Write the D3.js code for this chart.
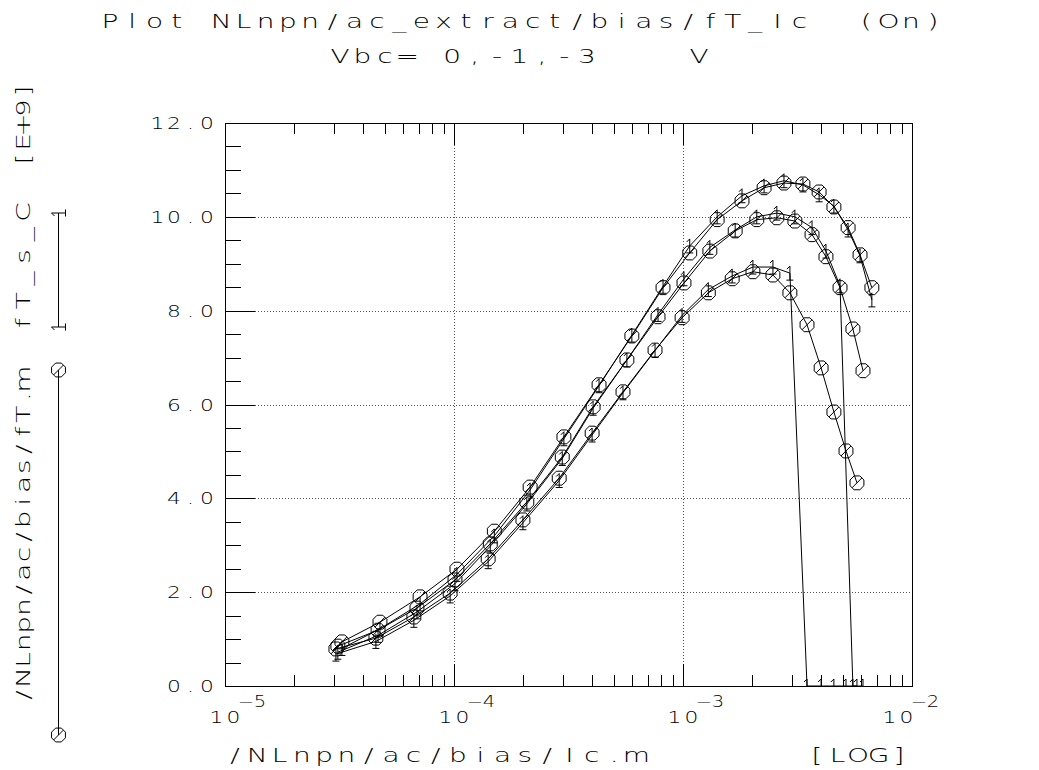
<!DOCTYPE html>
<html>
<head>
<meta charset="utf-8">
<script src="https://cdn.jsdelivr.net/npm/d3@7"></script>
<style>
body { margin: 0; background: #fff; }
text { font-family: "DejaVu Sans", sans-serif; font-weight: 200; fill: #000; white-space: pre; }
</style>
</head>
<body>
<svg id="chart" width="1039" height="770"></svg>
<script>
// collector current (A) per curve, fT in units of E+9 Hz
var icA = [3.24e-5, 4.75e-5, 7.11e-5, 1.03e-4, 1.50e-4, 2.15e-4, 3.02e-4, 4.30e-4, 5.98e-4, 8.18e-4,
           1.07e-3, 1.41e-3, 1.81e-3, 2.26e-3, 2.76e-3, 3.34e-3, 3.93e-3, 4.56e-3, 5.26e-3, 5.93e-3, 6.68e-3];
var icB = [3.11e-5, 4.66e-5, 6.89e-5, 1.01e-4, 1.44e-4, 2.08e-4, 2.97e-4, 4.05e-4, 5.69e-4, 7.78e-4,
           1.01e-3, 1.31e-3, 1.69e-3, 2.10e-3, 2.57e-3, 3.08e-3, 3.66e-3, 4.21e-3, 4.85e-3, 5.52e-3, 6.11e-3];
var icC = [3.05e-5, 4.56e-5, 6.68e-5, 9.62e-5, 1.41e-4, 2.00e-4, 2.88e-4, 4.01e-4, 5.47e-4, 7.55e-4,
           9.91e-4, 1.29e-3, 1.64e-3, 2.02e-3, 2.47e-3, 2.93e-3, 3.48e-3, 4.01e-3, 4.56e-3, 5.15e-3, 5.75e-3];

var fTmA = [0.94, 1.36, 1.90, 2.49, 3.30, 4.24, 5.31, 6.42, 7.46, 8.49, 9.23, 9.94, 10.34, 10.62, 10.72, 10.70, 10.53, 10.21, 9.77, 9.19, 8.49];
var fTmB = [0.85, 1.19, 1.66, 2.26, 3.03, 3.92, 4.88, 5.95, 6.95, 7.87, 8.59, 9.27, 9.70, 9.94, 9.98, 9.91, 9.62, 9.15, 8.49, 7.61, 6.72];
var fTmC = [0.79, 1.02, 1.47, 1.98, 2.71, 3.54, 4.43, 5.39, 6.27, 7.16, 7.85, 8.38, 8.68, 8.83, 8.76, 8.38, 7.70, 6.78, 5.84, 5.01, 4.33];

var fTsA = [0.80, 1.22, 1.75, 2.38, 3.20, 4.18, 5.27, 6.40, 7.48, 8.52, 9.38, 10.00, 10.45, 10.66, 10.77, 10.68, 10.47, 10.23, 9.72, 9.17, 8.23];
var fTsB = [0.72, 1.08, 1.58, 2.18, 2.98, 3.88, 4.85, 5.92, 6.95, 7.92, 8.68, 9.35, 9.72, 10.00, 10.08, 10.00, 9.77, 9.27, 8.53, 0, 0];
var fTsC = [0.68, 0.95, 1.40, 1.92, 2.65, 3.48, 4.38, 5.35, 6.25, 7.15, 7.90, 8.45, 8.74, 8.93, 8.93, 8.80, 0, 0, 0, 0, 0];

var yTicks = [0, 2, 4, 6, 8, 10, 12];
var yTickLabels = ["0.0", "2.0", "4.0", "6.0", "8.0", "10.0", "12.0"];
var xDecades = [-5, -4, -3, -2];

var titleText = "Plot NLnpn/ac_extract/bias/fT_Ic  (On)";
var subTitle = "Vbc= 0,-1,-3    V";
var xLabel = "/NLnpn/ac/bias/Ic.m";
var xUnit = "[LOG]";
var yLabelM = "/NLnpn/ac/bias/fT.m";
var yLabelS = "fT_s_C";
var yUnit = "[E+9]";

var svg = d3.select("#chart");
var x = d3.scaleLog().domain([1e-5, 1e-2]).range([225, 912]);
var y = d3.scaleLinear().domain([0, 12]).range([686, 123]);

// plotter style text: every character sits in its own fixed-width cell
function put(g, str, o) {
    var fs = o.fs, sx = o.sx || 1.4, gw = o.gw || 14;
    var n = str.length;
    var w = (n - 1) * o.adv + gw;
    var x0 = o.anchor == "end" ? -w : (o.anchor == "middle" ? -w / 2 : 0);
    var xs = d3.range(n).map(i => ((x0 + gw / 2 + i * o.adv) / sx).toFixed(2));
    var tr = "translate(" + o.x + "," + o.y + ")" + (o.rot ? " rotate(" + o.rot + ")" : "") + " scale(" + sx + ",1)";
    g.append("text").attr("transform", tr)
        .attr("font-size", fs)
        .attr("text-anchor", "middle")
        .attr("x", xs.join(" "))
        .text(str);
}

// grid
var grid = svg.append("g").attr("stroke", "#555").attr("stroke-width", 1).attr("stroke-dasharray", "1,2").attr("fill", "none");
grid.selectAll(".hg").data(yTicks.slice(1, -1)).enter().append("line")
    .attr("x1", x.range()[0]).attr("x2", x.range()[1])
    .attr("y1", d => Math.round(y(d)) + 0.5).attr("y2", d => Math.round(y(d)) + 0.5);
grid.selectAll(".vg").data(xDecades.slice(1, -1)).enter().append("line")
    .attr("x1", d => Math.round(x(Math.pow(10, d))) + 0.5).attr("x2", d => Math.round(x(Math.pow(10, d))) + 0.5)
    .attr("y1", y.range()[0]).attr("y2", y.range()[1]);

// frame and ticks
var ax = svg.append("g").attr("stroke", "#000").attr("stroke-width", 1).attr("fill", "none");
ax.append("rect").attr("x", 225.5).attr("y", 123.5).attr("width", 912 - 225).attr("height", 686 - 123);

var yMinor = d3.range(0, 12.001, 0.5).filter(d => d % 2 != 0);
ax.selectAll(".ymin").data(yMinor).enter().append("line")
    .attr("x1", 225).attr("x2", 241)
    .attr("y1", d => Math.round(y(d)) + 0.5).attr("y2", d => Math.round(y(d)) + 0.5);
ax.selectAll(".ymaj").data(yTicks).enter().append("line")
    .attr("x1", 225).attr("x2", 255)
    .attr("y1", d => Math.round(y(d)) + 0.5).attr("y2", d => Math.round(y(d)) + 0.5);

var xMinor = [];
xDecades.slice(0, -1).forEach(function (e) {
    d3.range(2, 10).forEach(function (k) { xMinor.push(k * Math.pow(10, e)); });
});
[[686, -11], [123, 11]].forEach(function (p) {
    ax.selectAll(null).data(xMinor).enter().append("line")
        .attr("x1", d => Math.round(x(d)) + 0.5).attr("x2", d => Math.round(x(d)) + 0.5)
        .attr("y1", p[0]).attr("y2", p[0] + p[1]);
    ax.selectAll(null).data(xDecades).enter().append("line")
        .attr("x1", d => Math.round(x(Math.pow(10, d))) + 0.5).attr("x2", d => Math.round(x(Math.pow(10, d))) + 0.5)
        .attr("y1", p[0]).attr("y2", p[0] + 2 * p[1]);
});

// tick labels
var tl = svg.append("g");
yTicks.forEach(function (d, i) {
    put(tl, yTickLabels[i], {x: 213, y: y(d) + 6, fs: 15, sx: 1.45, adv: 16.5, gw: 12, anchor: "end"});
});
xDecades.forEach(function (d, i) {
    var cx = x(Math.pow(10, d)) - (i == xDecades.length - 1 ? 14 : 0);
    put(tl, "10", {x: cx, y: 723, fs: 15, sx: 1.45, adv: 17, gw: 12, anchor: "middle"});
    put(tl, "\u2212" + Math.abs(d), {x: cx + 15, y: 707, fs: 15, sx: 1.3, adv: 14, gw: 12});
});

// titles
put(tl, titleText, {x: 103, y: 28, fs: 20, sx: 1.4, gw: 14, adv: (940 - 103 - 14) / (titleText.length - 1)});
put(tl, subTitle, {x: 333, y: 63, fs: 20, sx: 1.4, gw: 14, adv: (706 - 333 - 14) / (subTitle.length - 1)});
put(tl, xLabel, {x: 228, y: 762, fs: 20, sx: 1.4, gw: 14, adv: 22.3});
put(tl, xUnit, {x: 906, y: 762, fs: 20, sx: 1.4, gw: 14, adv: 20.5, anchor: "end"});
put(tl, yLabelM, {x: 30, y: 702, fs: 20, sx: 1.4, gw: 14, adv: (702 - 372 - 14) / (yLabelM.length - 1), rot: -90});
put(tl, yLabelS, {x: 30, y: 330, fs: 20, sx: 1.4, gw: 14, adv: (330 - 205 - 14) / (yLabelS.length - 1), rot: -90});
put(tl, yUnit, {x: 30, y: 166, fs: 20, sx: 1.4, gw: 14, adv: (166 - 84 - 14) / (yUnit.length - 1), rot: -90});

// markers
var oct = d3.range(8).map(function (k) {
    var a = Math.PI / 8 + k * Math.PI / 4;
    return [(7.5 * Math.cos(a)).toFixed(2), (7.5 * Math.sin(a)).toFixed(2)];
});
var octPath = "M" + oct.join("L") + "Z M-5,5 L5,-5";
var onePath = "M0,-7 V7 M-3.5,7 H3.5 M0,-7 L-3,-4";

svg.append("clipPath").attr("id", "plotclip").append("rect")
    .attr("x", 225).attr("y", 110).attr("width", 700).attr("height", 576);

var plot = svg.append("g").attr("clip-path", "url(#plotclip)");
var series = [
    {ic: icA, m: fTmA, s: fTsA},
    {ic: icB, m: fTmB, s: fTsB},
    {ic: icC, m: fTmC, s: fTsC}
];
var line = d3.line().x(d => x(d[0])).y(d => y(d[1]));

series.forEach(function (sr) {
    var mPts = d3.zip(sr.ic, sr.m);
    var sPts = d3.zip(sr.ic, sr.s);
    plot.append("path").attr("d", line(sPts)).attr("fill", "none").attr("stroke", "#000").attr("stroke-width", 1);
    plot.append("path").attr("d", line(mPts)).attr("fill", "none").attr("stroke", "#000").attr("stroke-width", 1);
    plot.selectAll(null).data(mPts).enter().append("path")
        .attr("transform", d => "translate(" + x(d[0]) + "," + y(d[1]) + ")")
        .attr("d", octPath).attr("fill", "none").attr("stroke", "#000").attr("stroke-width", 1);
    plot.selectAll(null).data(sPts).enter().append("path")
        .attr("transform", d => "translate(" + x(d[0]) + "," + y(d[1]) + ")")
        .attr("d", onePath).attr("fill", "none").attr("stroke", "#000").attr("stroke-width", 1);
});

// legend lines along the y label
var lg = svg.append("g").attr("stroke", "#000").attr("fill", "none").attr("stroke-width", 1);
lg.append("line").attr("x1", 58.5).attr("x2", 58.5).attr("y1", 370).attr("y2", 735);
[370, 735].forEach(function (py) {
    lg.append("path").attr("transform", "translate(58.5," + py + ")").attr("d", octPath);
});
lg.append("line").attr("x1", 58.5).attr("x2", 58.5).attr("y1", 213).attr("y2", 327);
[213, 327].forEach(function (py) {
    lg.append("path").attr("transform", "translate(58.5," + py + ") rotate(-90)").attr("d", onePath);
});
</script>
</body>
</html>
